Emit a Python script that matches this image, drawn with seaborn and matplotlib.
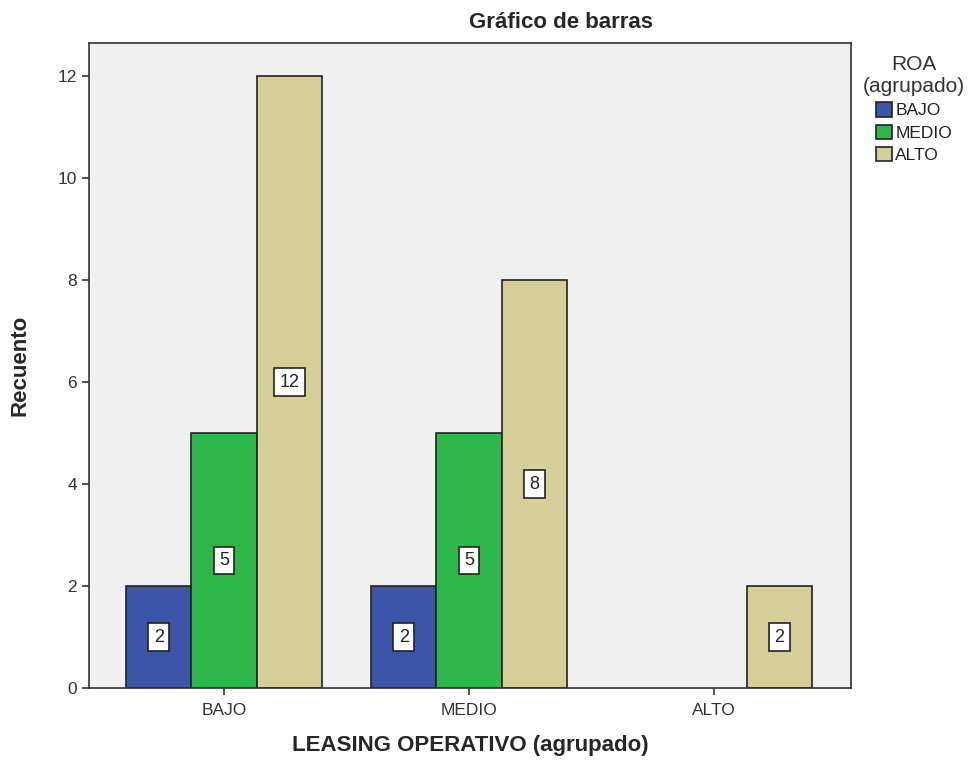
import pandas as pd
import matplotlib.pyplot as plt
import seaborn as sns

# ==============================
# Data
# ==============================
leasing = ["BAJO", "BAJO", "BAJO", "MEDIO", "MEDIO", "MEDIO", "ALTO"]
roa = ["BAJO", "MEDIO", "ALTO", "BAJO", "MEDIO", "ALTO", "ALTO"]
counts = [2, 5, 12, 2, 5, 8, 2]

categories = ["BAJO", "MEDIO", "ALTO"]
colors = ["#3D55A6", "#2EB84C", "#D4CE98"]

df = pd.DataFrame({"leasing": leasing, "roa": roa, "recuento": counts})

# ==============================
# Plot
# ==============================
sns.set_style("white")
plt.rcParams["font.family"] = ["Liberation Sans", "DejaVu Sans"]

fig = plt.figure(figsize=(9.79, 7.61), dpi=100)
ax = fig.add_axes([89 / 979, 1 - 688 / 761, 762 / 979, 645 / 761])
ax.set_facecolor("#F0F0F0")

sns.barplot(
    data=df, x="leasing", y="recuento", hue="roa",
    order=categories, hue_order=categories, palette=colors, saturation=1,
    width=0.8, edgecolor="#222222", linewidth=1.2, ax=ax,
)

for cont in ax.containers:
    ax.bar_label(
        cont, label_type="center", fontsize=13, color="#222222",
        bbox=dict(boxstyle="square,pad=0.3", fc="white", ec="#222222", lw=1.2),
    )

ax.set_xlim(-0.551, 2.559)
ax.set_ylim(0, 12.65)
ax.set_yticks([0, 2, 4, 6, 8, 10, 12])
ax.tick_params(axis="both", direction="out", length=5, width=1.2,
               colors="#333333", labelsize=12.5, left=True, bottom=True)
ax.tick_params(axis="x", pad=6)

for s in ax.spines.values():
    s.set_color("#333333")
    s.set_linewidth(1.2)

ax.set_xlabel("LEASING OPERATIVO (agrupado)", fontsize=16, fontweight="bold")
ax.set_ylabel("Recuento", fontsize=16, fontweight="bold")
ax.xaxis.set_label_coords(0.5, -(745 - 688) / 645, transform=ax.transAxes)
ax.xaxis.label.set_va("center")
ax.yaxis.set_label_coords(-(89 - 20) / 762, 0.5, transform=ax.transAxes)
ax.yaxis.label.set_va("center")
fig.text(561 / 979, 1 - 22 / 761, "Gráfico de barras", fontsize=16,
         fontweight="bold", ha="center", va="center")

leg = ax.legend(
    title="ROA\n(agrupado)", loc="upper left", bbox_to_anchor=(1.0, 1.0),
    frameon=False, fontsize=12.5, title_fontsize=15,
    handlelength=0.9, handleheight=0.9, handletextpad=0.2,
    labelspacing=0.35, borderaxespad=0.3,
)
leg._legend_box.align = "center"
leg.get_title().set_multialignment("center")
leg.get_title().set_color("#333333")
for t in leg.get_texts():
    t.set_color("#222222")

plt.savefig("out.png", dpi=100)
plt.close()
